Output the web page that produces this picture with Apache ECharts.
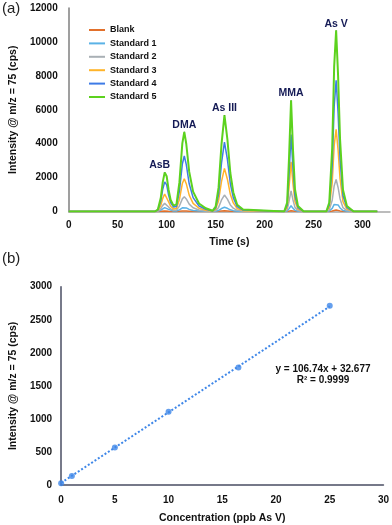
<!DOCTYPE html>
<html>
<head>
<meta charset="utf-8">
<script src="https://cdn.jsdelivr.net/npm/echarts@6/dist/echarts.min.js"></script>
<style>
  html, body { margin: 0; padding: 0; background: #fff; }
  #main { width: 392px; height: 525px; }
</style>
</head>
<body>
<div id="main"></div>
<script>
// (a) chromatogram - time points (s) shared by all traces
var times = [0, 88, 91, 94, 96, 98, 100, 102, 104, 107, 110, 113, 116, 118, 120, 123, 127, 133, 140, 147,
  150, 153, 156, 159, 162, 165, 168, 172, 178,
  220, 223, 225, 227, 229, 231, 234, 240,
  263, 266, 269, 271, 273, 275, 277, 280, 284, 291, 315];

var blank = [0, 0, 2, 11, 23, 30, 27, 17, 9, 4, 4, 14, 34, 40, 34, 20, 10, 4, 2, 0,
  2, 10, 28, 40, 30, 16, 8, 3, 1,
  0, 4, 25, 50, 28, 10, 3, 0,
  0, 5, 32, 72, 90, 68, 36, 11, 3, 0, 0];
var std1 = [0, 0, 12, 81, 173, 230, 207, 127, 69, 33, 29, 95, 215, 250, 213, 125, 63, 25, 10, 3,
  13, 63, 175, 250, 188, 100, 50, 18, 5,
  0, 27, 170, 340, 187, 68, 17, 0,
  0, 26, 182, 416, 520, 390, 208, 62, 16, 0, 0];
var std2 = [0, 0, 24, 168, 360, 480, 432, 264, 144, 71, 81, 319, 745, 870, 740, 435, 218, 87, 35, 9,
  49, 243, 679, 970, 728, 388, 194, 68, 19,
  0, 98, 610, 1220, 671, 244, 61, 0,
  0, 95, 662, 1512, 1890, 1418, 756, 227, 57, 0, 0];
var std3 = [0, 0, 52, 361, 773, 1030, 927, 567, 309, 153, 178, 707, 1651, 1930, 1641, 965, 483, 193, 77, 19,
  127, 635, 1778, 2540, 1905, 1016, 508, 178, 51,
  0, 234, 1465, 2930, 1612, 586, 147, 0,
  0, 243, 1698, 3880, 4850, 3638, 1940, 582, 146, 0, 0];
var std4 = [0, 0, 88, 613, 1313, 1750, 1575, 963, 525, 261, 301, 1198, 2798, 3270, 2780, 1635, 818, 327, 131, 33,
  205, 1023, 2863, 4090, 3068, 1636, 818, 286, 82,
  0, 363, 2270, 4540, 2497, 908, 227, 0,
  0, 387, 2709, 6192, 7740, 5805, 3096, 929, 232, 0, 0];
var std5 = [0, 0, 116, 809, 1733, 2310, 2079, 1271, 693, 347, 421, 1714, 4018, 4700, 3995, 2350, 1175, 470, 188, 47,
  284, 1420, 3976, 5680, 4260, 2272, 1136, 398, 114,
  0, 525, 3280, 6560, 3608, 1312, 328, 0,
  0, 534, 3738, 8544, 10680, 8010, 4272, 1282, 320, 0, 0];

var traceNames = ['Blank', 'Standard 1', 'Standard 2', 'Standard 3', 'Standard 4', 'Standard 5'];
var traceValues = [blank, std1, std2, std3, std4, std5];
var traceColors = ['#E2702B', '#5AB2E6', '#A9B0B5', '#FFB42A', '#3E7BE6', '#5CD21E'];

// peak labels: name, retention time, apex of Standard 5
var peakNames = ['AsB', 'DMA', 'As III', 'MMA', 'As V'];
var peakTimes = [98, 118, 159, 227, 273];
var peakApex = [2310, 4700, 5680, 6560, 10680];

// (b) calibration
var concentrations = [0, 1, 5, 10, 16.5, 25];
var intensities = [28, 138, 568, 1108, 1778, 2713];
var slope = 106.74;
var intercept = 32.677;
var fitRange = [0, 25];

var chartDom = document.getElementById('main');
var myChart = echarts.init(chartDom);

var font = 'Liberation Sans, Arial, sans-serif';
var plain = function (v) { return String(v); };
var labelStyle = { color: '#111', fontWeight: 'bold', fontSize: 10, fontFamily: font, formatter: plain };
var nameStyle = { color: '#111', fontWeight: 'bold', fontSize: 10.5, fontFamily: font };

var series = [];
for (var i = 0; i < traceNames.length; i++) {
  var pts = [];
  for (var j = 0; j < times.length; j++) {
    pts.push([times[j], traceValues[i][j]]);
  }
  series.push({
    name: traceNames[i],
    type: 'line',
    xAxisIndex: 0,
    yAxisIndex: 0,
    symbol: 'none',
    data: pts,
    lineStyle: { width: i == 5 ? 2 : 1.5, color: traceColors[i] },
    itemStyle: { color: traceColors[i] },
    z: 2 + i
  });
}

// peak names sit just above the Standard 5 apex
var peakPts = [];
for (var k = 0; k < peakNames.length; k++) {
  peakPts.push({
    value: [peakTimes[k], peakApex[k]],
    name: peakNames[k],
    label: { offset: k == 0 ? [-5, 0] : [0, 0] }
  });
}
series.push({
  type: 'scatter',
  xAxisIndex: 0,
  yAxisIndex: 0,
  symbol: 'circle',
  symbolSize: 0.5,
  itemStyle: { color: '#141a55', opacity: 1 },
  data: peakPts,
  silent: true,
  label: {
    show: true,
    position: 'top',
    distance: 1,
    formatter: function (p) { return p.name; },
    color: '#141a55',
    textBorderWidth: 0,
    fontWeight: 'bold',
    fontSize: 10.5,
    fontFamily: font
  },
  z: 20
});

var calPts = [];
for (var c = 0; c < concentrations.length; c++) {
  calPts.push([concentrations[c], intensities[c]]);
}
// linear trendline from the fitted equation
var fitPts = [];
for (var f = 0; f < fitRange.length; f++) {
  fitPts.push([fitRange[f], slope * fitRange[f] + intercept]);
}
series.push({
  type: 'line',
  xAxisIndex: 1,
  yAxisIndex: 1,
  symbol: 'none',
  data: fitPts,
  lineStyle: { color: '#3F87E8', width: 2, type: [2, 2] },
  z: 3
});
series.push({
  type: 'scatter',
  xAxisIndex: 1,
  yAxisIndex: 1,
  symbol: 'circle',
  symbolSize: 6,
  data: calPts,
  itemStyle: { color: '#3F87E8' },
  z: 4
});

var option = {
  animation: false,
  backgroundColor: '#fff',
  textStyle: { fontFamily: font },
  legend: {
    data: traceNames,
    orient: 'vertical',
    left: 84,
    top: 20,
    icon: 'rect',
    itemWidth: 16,
    itemHeight: 2,
    itemGap: 3.4,
    textStyle: { color: '#111', fontWeight: 'bold', fontSize: 9, fontFamily: font, lineHeight: 10, height: 10 }
  },
  grid: [
    { left: 65, top: 8, width: 325, height: 203.5 },
    { left: 58.3, top: 286.7, width: 326.7, height: 202.6 }
  ],
  xAxis: [
    {
      type: 'value', gridIndex: 0, min: 0, max: 328, interval: 50,
      axisLine: { show: true, onZero: false, lineStyle: { color: '#A6A6A6', width: 1.5 } },
      axisTick: { show: false },
      splitLine: { show: false },
      axisLabel: Object.assign({ margin: 9, showMaxLabel: false }, labelStyle),
      name: 'Time (s)', nameLocation: 'middle', nameGap: 25,
      nameTextStyle: nameStyle
    },
    {
      type: 'value', gridIndex: 1, min: 0, max: 30, interval: 5,
      axisLine: { show: true, onZero: false, lineStyle: { color: '#4A4E63', width: 1.5 } },
      axisTick: { show: false },
      splitLine: { show: false },
      axisLabel: Object.assign({ margin: 10 }, labelStyle),
      name: 'Concentration (ppb As V)', nameLocation: 'middle', nameGap: 28,
      nameTextStyle: nameStyle
    }
  ],
  yAxis: [
    {
      type: 'value', gridIndex: 0, min: 0, max: 12000, interval: 2000,
      axisLine: { show: true, lineStyle: { color: '#7F7F7F', width: 1.5 } },
      axisTick: { show: false },
      splitLine: { show: false },
      axisLabel: Object.assign({ margin: 11 }, labelStyle),
      name: 'Intensity @ m/z = 75 (cps)', nameLocation: 'middle', nameGap: 42,
      nameTextStyle: nameStyle
    },
    {
      type: 'value', gridIndex: 1, min: 0, max: 3000, interval: 500,
      axisLine: { show: true, lineStyle: { color: '#4A4E63', width: 1.5 } },
      axisTick: { show: false },
      splitLine: { show: false },
      axisLabel: Object.assign({ margin: 9 }, labelStyle),
      name: 'Intensity @ m/z = 75 (cps)', nameLocation: 'middle', nameGap: 36,
      nameTextStyle: nameStyle
    }
  ],
  graphic: [
    { type: 'text', left: 2, top: 1, style: { text: '(a)', fontSize: 15, fontFamily: font, fill: '#222' } },
    { type: 'text', left: 2, top: 251, style: { text: '(b)', fontSize: 15, fontFamily: font, fill: '#222' } },
    { type: 'text', x: 323, y: 369, style: { text: 'y = 106.74x + 32.677', fontSize: 10, fontWeight: 'bold', fontFamily: font, fill: '#111', align: 'center', verticalAlign: 'middle' } },
    { type: 'text', x: 323, y: 380.5, style: { text: 'R\u00B2 = 0.9999', fontSize: 10, fontWeight: 'bold', fontFamily: font, fill: '#111', align: 'center', verticalAlign: 'middle' } }
  ],
  series: series
};

myChart.setOption(option);
</script>
</body>
</html>
